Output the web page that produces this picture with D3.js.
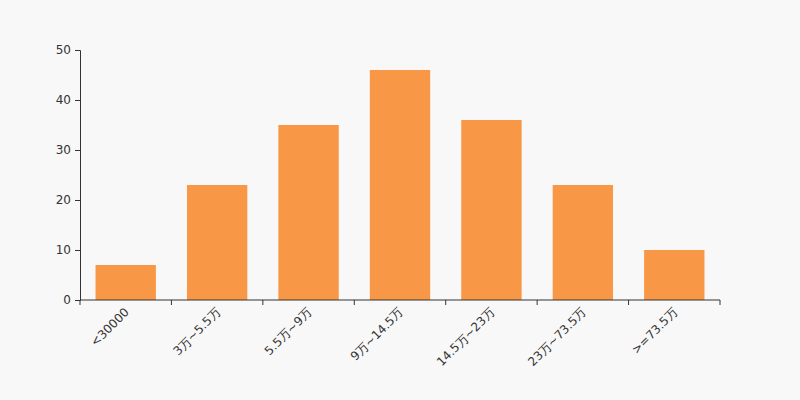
<!DOCTYPE html>
<html><head><meta charset="utf-8">
<script src="https://cdn.jsdelivr.net/npm/d3@7"></script>
<style>body{margin:0;background:#f8f8f8;}svg{display:block;}</style>
</head><body>
<svg id="c" width="800" height="400"></svg>
<script>
const categories = ["<30000","3万~5.5万","5.5万~9万","9万~14.5万","14.5万~23万","23万~73.5万",">=73.5万"];
const values = [7,23,35,46,36,23,10];
const yTicks = [0,10,20,30,40,50];

const svg = d3.select("#c");
svg.append("rect").attr("width",800).attr("height",400).attr("fill","#f8f8f8");
const x = d3.scaleBand().domain(categories).range([80,720]).padding(0);
const y = d3.scaleLinear().domain([0,50]).range([300,50]);
const font = "DejaVu Sans, sans-serif";

const bw = x.bandwidth()*0.66;
svg.append("g").selectAll("rect").data(values).join("rect")
  .attr("x",(d,i)=>x(categories[i])+(x.bandwidth()-bw)/2)
  .attr("y",d=>y(d)).attr("width",bw).attr("height",d=>300-y(d))
  .attr("fill","#f89746");

const yAxis = svg.append("g").attr("transform","translate(80,0)")
  .call(d3.axisLeft(y).tickValues(yTicks).tickSize(5).tickPadding(4));
yAxis.selectAll("text").attr("font-family",font).attr("font-size",12).attr("fill","#333");
yAxis.selectAll("line,path").attr("stroke","#333");

const xAxis = svg.append("g").attr("transform","translate(0,300)");
xAxis.append("line").attr("x1",80).attr("x2",720).attr("stroke","#333");
const edges = categories.map(c=>x(c)).concat([720]);
xAxis.selectAll("line.t").data(edges).join("line").attr("class","t")
  .attr("x1",d=>d).attr("x2",d=>d).attr("y1",0).attr("y2",5).attr("stroke","#333");
xAxis.selectAll("text").data(categories).join("text")
  .attr("transform",d=>`translate(${x(d)+x.bandwidth()/2+1},${10}) rotate(-45)`)
  .attr("text-anchor","end").attr("dy","0.35em")
  .attr("font-family",font).attr("font-size",12).attr("fill","#333")
  .text(d=>d);
</script>
</body></html>
